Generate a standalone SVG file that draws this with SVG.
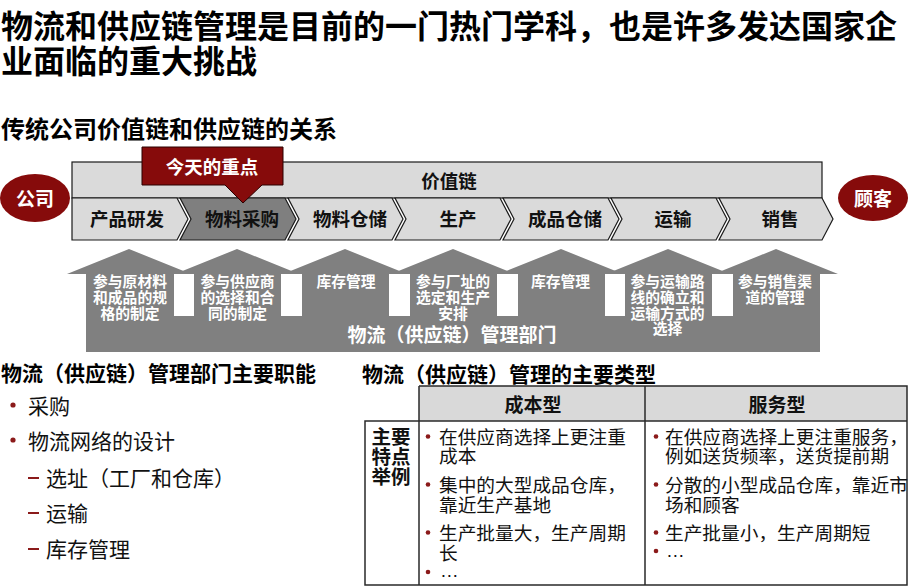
<svg xmlns="http://www.w3.org/2000/svg" width="911" height="587" viewBox="0 0 911 587">
<style>
text{font-family:"Noto Sans CJK SC","Noto Sans",sans-serif;}
.b{font-weight:700;}
.c{text-anchor:middle;dominant-baseline:central;}
.m{dominant-baseline:central;}
.w{fill:#fff;}
.k{fill:#111;}
.chev{fill:#dadada;stroke:#1a1a1a;stroke-width:1.2;}
.chevd{fill:#7f7f7f;stroke:#1a1a1a;stroke-width:1.2;}
.red{fill:#860b0b;}
.arr{fill:#808080;}
.dot{fill:#8b1a1a;}
.dash{stroke:#8b1a1a;stroke-width:2;}
.tl{stroke:#2a2a2a;stroke-width:1.5;fill:none;}
.lab{font-size:18.5px;}
.at{font-size:14.8px;}
.bt{font-size:18.7px;}
.li{font-size:21px;}
.ell{font-family:"Liberation Sans",sans-serif;font-size:18.7px;fill:#111;}
</style>

<g id="title">
<text class="b m" x="1" y="23.5" font-size="32" fill="#000">物流和供应链管理是目前的一门热门学科，也是许多发达国家企</text>
<text class="b m" x="1" y="59" font-size="32" fill="#000">业面临的重大挑战</text>
</g>
<g id="subtitle">
<text class="b m" x="1" y="127" font-size="24" fill="#000">传统公司价值链和供应链的关系</text>
</g>

<g id="value-chain">
<rect x="72" y="162" width="750" height="36" fill="#dadada" stroke="#1a1a1a" stroke-width="1.2"/>
<text class="b c lab" x="449" y="180" fill="#111" font-size="19">价值链</text>
</g>

<g id="chev-1"><polygon class="chev" points="72,198 177,198 188,219 177,240 72,240"/><text class="b c lab k" x="127" y="218">产品研发</text></g>
<g id="chev-2"><polygon class="chevd" points="180,198 285,198 296,219 285,240 180,240 191,219"/><text class="b c lab k" x="242" y="218">物料采购</text></g>
<g id="chev-3"><polygon class="chev" points="288,198 392,198 403,219 392,240 288,240 299,219"/><text class="b c lab k" x="350" y="218">物料仓储</text></g>
<g id="chev-4"><polygon class="chev" points="395,198 500,198 511,219 500,240 395,240 406,219"/><text class="b c lab k" x="458" y="218">生产</text></g>
<g id="chev-5"><polygon class="chev" points="503,198 608,198 619,219 608,240 503,240 514,219"/><text class="b c lab k" x="565" y="218">成品仓储</text></g>
<g id="chev-6"><polygon class="chev" points="611,198 716,198 727,219 716,240 611,240 622,219"/><text class="b c lab k" x="673" y="218">运输</text></g>
<g id="chev-7"><polygon class="chev" points="719,198 822,198 833,219 822,240 719,240 730,219"/><text class="b c lab k" x="780" y="218">销售</text></g>

<g id="callout">
<polygon class="red" points="142,147 283,147 283,185 262,185 243,203 225,185 142,185" stroke="#2a0000" stroke-width="1"/>
<text class="b c w" x="212" y="166" font-size="18.5">今天的重点</text>
</g>

<g id="company">
<ellipse class="red" cx="35" cy="198" rx="35" ry="24"/>
<text class="b c w" x="35" y="197" font-size="19">公司</text>
</g>
<g id="customer">
<ellipse class="red" cx="873" cy="198" rx="35" ry="23"/>
<text class="b c w" x="873" y="197" font-size="19">顾客</text>
</g>

<g id="logistics-dept">
<rect class="arr" x="86" y="316" width="734" height="36"/>
<polygon class="arr" points="86,352 86,274 67,274 129,249 191,274 174,274 174,352"/>
<polygon class="arr" points="194,352 194,274 175,274 237,249 299,274 281,274 281,352"/>
<polygon class="arr" points="302,352 302,274 283,274 345,249 407,274 389,274 389,352"/>
<polygon class="arr" points="410,352 410,274 391,274 453,249 515,274 497,274 497,352"/>
<polygon class="arr" points="518,352 518,274 499,274 561,249 623,274 605,274 605,352"/>
<polygon class="arr" points="625,352 625,274 606,274 668,249 730,274 712,274 712,352"/>
<polygon class="arr" points="733,352 733,274 714,274 776,249 838,274 820,274 820,352"/>
<text class="b c w" x="452" y="333.5" font-size="19">物流（供应链）管理部门</text>
</g>

<g id="arrow-1" class="b w at">
<text class="c" x="130" y="280">参与原材料</text>
<text class="c" x="130" y="296.5">和成品的规</text>
<text class="c" x="130" y="312">格的制定</text>
</g>
<g id="arrow-2" class="b w at">
<text class="c" x="237.5" y="280">参与供应商</text>
<text class="c" x="237.5" y="296.5">的选择和合</text>
<text class="c" x="237.5" y="312">同的制定</text>
</g>
<g id="arrow-3" class="b w at">
<text class="c" x="346" y="280">库存管理</text>
</g>
<g id="arrow-4" class="b w at">
<text class="c" x="453" y="280">参与厂址的</text>
<text class="c" x="453" y="296.5">选定和生产</text>
<text class="c" x="453" y="312">安排</text>
</g>
<g id="arrow-5" class="b w at">
<text class="c" x="560.5" y="280">库存管理</text>
</g>
<g id="arrow-6" class="b w at">
<text class="c" x="667.5" y="280">参与运输路</text>
<text class="c" x="667.5" y="296">线的确立和</text>
<text class="c" x="667.5" y="312">运输方式的</text>
<text class="c" x="667.5" y="327.5">选择</text>
</g>
<g id="arrow-7" class="b w at">
<text class="c" x="775" y="280">参与销售渠</text>
<text class="c" x="775" y="296">道的管理</text>
</g>

<g id="functions">
<text class="b m" x="1" y="372" font-size="21" fill="#000">物流（供应链）管理部门主要职能</text>
<circle class="dot" cx="13" cy="405" r="2.6"/>
<text class="m li k" x="28" y="405">采购</text>
<circle class="dot" cx="13" cy="440" r="2.6"/>
<text class="m li k" x="28" y="440">物流网络的设计</text>
<line class="dash" x1="28" y1="478" x2="39" y2="478"/>
<text class="m li k" x="46" y="477">选址（工厂和仓库）</text>
<line class="dash" x1="28" y1="513" x2="39" y2="513"/>
<text class="m li k" x="46" y="512">运输</text>
<line class="dash" x1="28" y1="549" x2="39" y2="549"/>
<text class="m li k" x="46" y="548">库存管理</text>
</g>

<g id="types-table">
<text class="b m" x="362" y="373" font-size="21" fill="#000">物流（供应链）管理的主要类型</text>
<rect x="419" y="386" width="488" height="35" fill="#d9d9d9"/>
<path class="tl" d="M419,386 H907 V585 H365 V421 H907 M419,386 V585 M645,386 V585"/>
<text class="b c" x="533" y="403.5" font-size="19" fill="#111">成本型</text>
<text class="b c" x="777" y="403.5" font-size="19" fill="#111">服务型</text>
<text class="b c" x="391" y="435.5" font-size="19.5" fill="#111">主要</text>
<text class="b c" x="391" y="455.5" font-size="19.5" fill="#111">特点</text>
<text class="b c" x="391" y="475" font-size="19.5" fill="#111">举例</text>

<circle class="dot" cx="428" cy="436.5" r="2.3"/>
<text class="m bt k" x="439" y="435.5">在供应商选择上更注重</text>
<text class="m bt k" x="439" y="454.5">成本</text>
<circle class="dot" cx="428" cy="484.5" r="2.3"/>
<text class="m bt k" x="439" y="483.5">集中的大型成品仓库，</text>
<text class="m bt k" x="439" y="503">靠近生产基地</text>
<circle class="dot" cx="428" cy="532.5" r="2.3"/>
<text class="m bt k" x="439" y="531.5">生产批量大，生产周期</text>
<text class="m bt k" x="439" y="551">长</text>
<circle class="dot" cx="428" cy="572" r="2.3"/>
<text class="ell" x="440" y="577">…</text>

<circle class="dot" cx="656" cy="436.5" r="2.3"/>
<text class="m bt k" x="665" y="435.5">在供应商选择上更注重服务，</text>
<text class="m bt k" x="665" y="454.5">例如送货频率，送货提前期</text>
<circle class="dot" cx="656" cy="484.5" r="2.3"/>
<text class="m bt k" x="665" y="483.5">分散的小型成品仓库，靠近市</text>
<text class="m bt k" x="665" y="503">场和顾客</text>
<circle class="dot" cx="656" cy="532.5" r="2.3"/>
<text class="m bt k" x="665" y="531.5">生产批量小，生产周期短</text>
<circle class="dot" cx="656" cy="551" r="2.3"/>
<text class="ell" x="666" y="557">…</text>
</g>
</svg>
